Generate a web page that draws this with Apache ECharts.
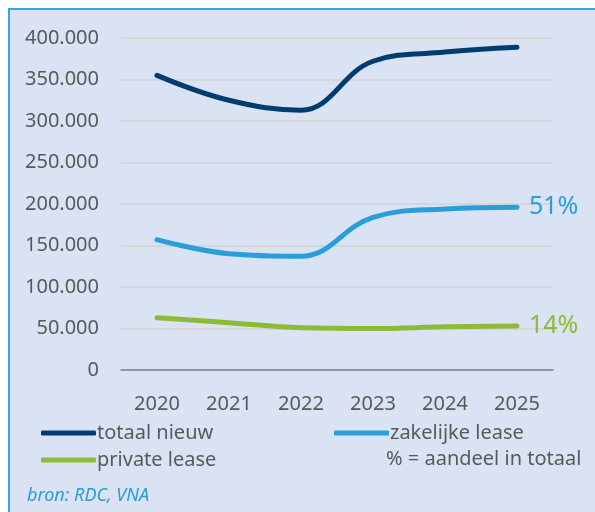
<!DOCTYPE html>
<html>
<head>
<meta charset="utf-8">
<script src="https://cdn.jsdelivr.net/npm/echarts@6/dist/echarts.min.js"></script>
<style>
  html, body { margin: 0; padding: 0; background: #fff; }
  #frame {
    position: absolute; left: 8px; top: 8px; width: 600px; height: 520px;
    background: #dae3f3; border-left: 2px solid #3aa3e3; border-top: 2px solid #3aa3e3;
  }
  #main { position: absolute; left: 0; top: 0; width: 595px; height: 512px; }
</style>
</head>
<body>
<div id="frame"></div>
<div id="main"></div>
<script>
const years = ["2020", "2021", "2022", "2023", "2024", "2025"];
const totaal = [355000, 325000, 313000, 372000, 383000, 389000];
const zakelijk = [157000, 140000, 137000, 184000, 194000, 196000];
const privaat = [63000, 57000, 51000, 50000, 52000, 53000];
const seriesNames = ["totaal nieuw", "zakelijke lease", "private lease"];
const shares = ["", "51%", "14%"];
const yTicks = [0, 50000, 400000];

const colors = ["#003c6f", "#2a9edb", "#8dba38"];
const font = "Noto Sans";

function dots(v) {
  return String(v).replace(/\B(?=(\d{3})+(?!\d))/g, ".");
}

const chart = echarts.init(document.getElementById("main"));

function line(i, data) {
  return {
    name: seriesNames[i],
    type: "line",
    data: data,
    smooth: 0.4,
    symbol: "none",
    lineStyle: { color: colors[i], width: 5, cap: "round" },
    itemStyle: { color: colors[i] },
    endLabel: {
      show: shares[i] !== "",
      formatter: () => shares[i],
      color: colors[i],
      fontFamily: font,
      fontSize: 25,
      distance: 12
    }
  };
}

chart.setOption({
  animation: false,
  textStyle: { fontFamily: font },
  grid: { left: 121, right: 42, top: 38, bottom: 142 },
  xAxis: {
    type: "category",
    data: years,
    boundaryGap: true,
    axisLine: { lineStyle: { color: "#7f7f7f", width: 1.5 } },
    axisTick: { inside: true, length: 7, lineStyle: { color: "#7f7f7f", width: 1.5 } },
    axisLabel: { color: "#595959", fontSize: 20, margin: 24 }
  },
  yAxis: {
    type: "value",
    min: yTicks[0],
    max: yTicks[2],
    interval: yTicks[1],
    axisLine: { show: false },
    axisTick: { show: false },
    splitLine: { lineStyle: { color: "#d6d6d6", width: 2 } },
    axisLabel: { color: "#595959", fontSize: 20, margin: 22, formatter: dots }
  },
  legend: [
    {
      data: [seriesNames[0], seriesNames[2]],
      orient: "vertical",
      left: 36, top: 418,
      itemWidth: 55, itemHeight: 5, itemGap: 7,
      icon: "roundRect",
      textStyle: { color: "#595959", fontSize: 20, fontFamily: font, padding: [0, 0, 0, -4] }
    },
    {
      data: [seriesNames[1]],
      orient: "vertical",
      left: 329, top: 418,
      itemWidth: 55, itemHeight: 5,
      icon: "roundRect",
      textStyle: { color: "#595959", fontSize: 20, fontFamily: font, padding: [0, 0, 0, -4] }
    }
  ],
  graphic: [
    {
      type: "text", left: 386, top: 449,
      style: { text: "% = aandeel in totaal", fill: "#595959", font: "20px " + font }
    },
    {
      type: "text", left: 27, top: 487,
      style: { text: "bron: RDC, VNA", fill: "#2e9bd8", font: "italic 18px " + font }
    }
  ],
  series: [line(0, totaal), line(1, zakelijk), line(2, privaat)]
});
</script>
</body>
</html>
